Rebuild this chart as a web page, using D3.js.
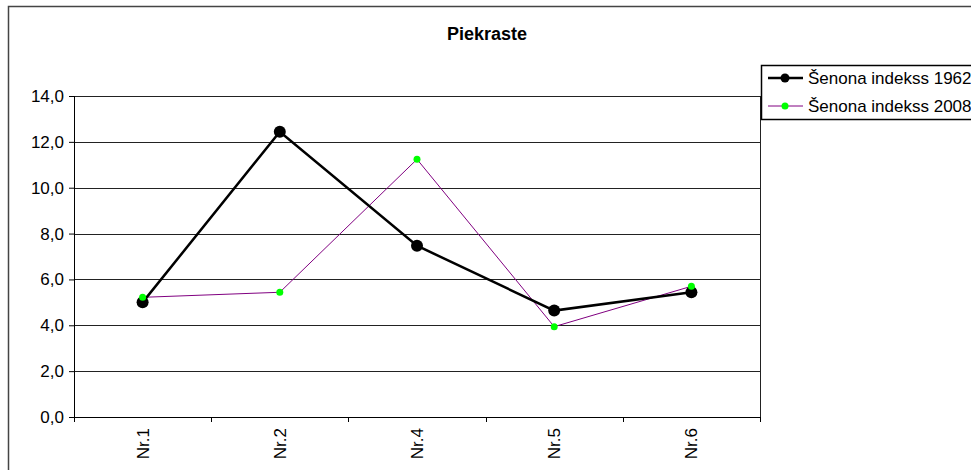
<!DOCTYPE html>
<html>
<head>
<meta charset="utf-8">
<script src="https://cdn.jsdelivr.net/npm/d3@7"></script>
<style>
  body { margin: 0; background: #fff; }
  text { font-family: "Liberation Sans", Arial, sans-serif; }
</style>
</head>
<body>
<div id="chart"></div>
<script>
// Data
const categories = ['Nr.1', 'Nr.2', 'Nr.4', 'Nr.5', 'Nr.6'];
const values1962 = [5.0, 12.44, 7.47, 4.64, 5.44];
const values2008 = [5.22, 5.44, 11.24, 3.94, 5.70];
const yTicks = [0, 2, 4, 6, 8, 10, 12, 14];
const seriesNames = ['Šenona indekss 1962', 'Šenona indekss 2008'];

// Chart dimensions
const W = 971, H = 470;
const margin = { top: 96, left: 74, right: 211, bot: 53 };
const width = W - margin.left - margin.right;
const height = H - margin.top - margin.bot;

const svg = d3.select('#chart').append('svg')
  .attr('width', W)
  .attr('height', H);

// outer frame (extends past the window like the original)
svg.append('rect')
  .attr('x', 8.5).attr('y', 6.5)
  .attr('width', 1000).attr('height', 500)
  .attr('fill', 'none')
  .attr('stroke', '#444')
  .attr('stroke-width', 1.5);

svg.append('text')
  .attr('x', 487).attr('y', 40)
  .attr('text-anchor', 'middle')
  .style('font-size', '18px')
  .style('font-weight', 'bold')
  .text('Piekraste');

// Scales
const xScale = d3.scaleBand().domain(categories).range([0, width]);
const yScale = d3.scaleLinear().domain([0, 14]).range([height, 0]);

const g = svg.append('g')
  .attr('transform', `translate(${margin.left}, ${margin.top})`);

// gridlines
g.append('g')
  .selectAll('line')
  .data(yTicks.slice(1))
  .join('line')
  .attr('x1', 0).attr('x2', width)
  .attr('y1', d => Math.round(yScale(d)) + 0.5)
  .attr('y2', d => Math.round(yScale(d)) + 0.5)
  .attr('stroke', '#222')
  .attr('stroke-width', 1);

// right border
g.append('line')
  .attr('x1', width + 0.5).attr('x2', width + 0.5)
  .attr('y1', 0).attr('y2', height)
  .attr('stroke', '#222');

// Axes
const yAxis = d3.axisLeft(yScale)
  .tickValues(yTicks)
  .tickSize(5)
  .tickPadding(5)
  .tickFormat(d => d3.format('.1f')(d).replace('.', ','));

const yG = g.append('g').call(yAxis);
yG.selectAll('text').style('font-size', '17px').attr('fill', '#000');
yG.selectAll('line').attr('stroke', '#000');
yG.select('.domain').attr('stroke', '#000').attr('d', `M0.5,0V${height}`);

const xG = g.append('g')
  .attr('transform', `translate(0, ${height})`);
xG.append('line')
  .attr('x1', -5).attr('x2', width)
  .attr('y1', 0.5).attr('y2', 0.5)
  .attr('stroke', '#000');
xG.selectAll('.tick')
  .data(d3.range(categories.length + 1))
  .join('line')
  .attr('x1', i => Math.round(i * xScale.step()) + 0.5)
  .attr('x2', i => Math.round(i * xScale.step()) + 0.5)
  .attr('y1', 0).attr('y2', 5)
  .attr('stroke', '#000');
xG.selectAll('.xlabel')
  .data(categories)
  .join('text')
  .attr('transform', d => `translate(${xScale(d) + xScale.bandwidth() / 2 + 6}, 11) rotate(-90)`)
  .attr('text-anchor', 'end')
  .style('font-size', '17px')
  .text(d => d);

const xPos = (d, i) => xScale(categories[i]) + xScale.bandwidth() / 2;

// Lines
const line = d3.line().x(xPos).y(d => yScale(d));

g.append('path')
  .datum(values2008)
  .attr('d', line)
  .attr('fill', 'none')
  .attr('stroke', '#800080')
  .attr('stroke-width', 1);

g.append('path')
  .datum(values1962)
  .attr('d', line)
  .attr('fill', 'none')
  .attr('stroke', '#000')
  .attr('stroke-width', 2.5);

g.selectAll('.m1962')
  .data(values1962)
  .join('circle')
  .attr('cx', xPos).attr('cy', d => yScale(d))
  .attr('r', 6)
  .attr('fill', '#000');

g.selectAll('.m2008')
  .data(values2008)
  .join('circle')
  .attr('cx', xPos).attr('cy', d => yScale(d))
  .attr('r', 3.5)
  .attr('fill', '#00ff00');

// Legend
const legend = svg.append('g').attr('transform', 'translate(761, 65)');
legend.append('rect')
  .attr('x', 0.5).attr('y', 0.5)
  .attr('width', 300).attr('height', 54)
  .attr('fill', '#fff')
  .attr('stroke', '#000')
  .attr('stroke-width', 1.5);

const legendStyles = [
  { stroke: '#000', width: 2.5, fill: '#000', r: 4.5 },
  { stroke: '#800080', width: 1, fill: '#00ff00', r: 3.5 }
];

seriesNames.forEach((name, i) => {
  const row = legend.append('g').attr('transform', `translate(0, ${13 + i * 28})`);
  row.append('line')
    .attr('x1', 7).attr('x2', 42)
    .attr('y1', 0).attr('y2', 0)
    .attr('stroke', legendStyles[i].stroke)
    .attr('stroke-width', legendStyles[i].width);
  row.append('circle')
    .attr('cx', 24).attr('cy', 0)
    .attr('r', legendStyles[i].r)
    .attr('fill', legendStyles[i].fill);
  row.append('text')
    .attr('x', 47).attr('y', 6)
    .style('font-size', '17px')
    .text(name);
});
</script>
</body>
</html>
